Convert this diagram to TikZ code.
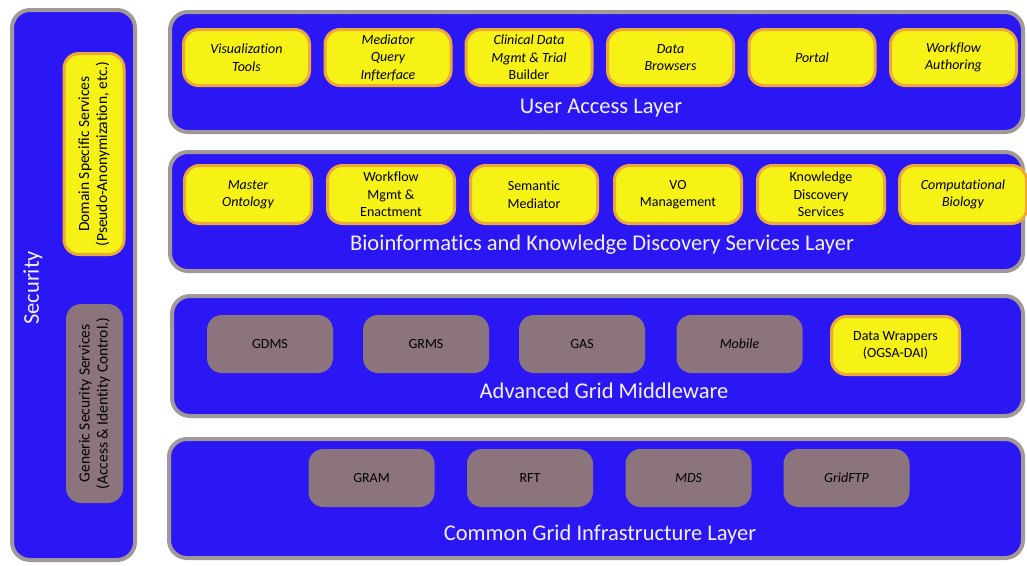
\documentclass[tikz,border=0pt]{standalone}
\usepackage{fontspec}
\setmainfont[Ligatures={NoCommon}]{Carlito}
\definecolor{layerblue}{HTML}{2B16F4}
\definecolor{panelgray}{HTML}{A39898}
\definecolor{boxyellow}{HTML}{F6F216}
\definecolor{boxorange}{HTML}{EEA83A}
\definecolor{boxmauve}{HTML}{8C747C}
\definecolor{titlewhite}{HTML}{F2F0FF}
\tikzset{
  panel/.style={draw=panelgray, line width=4pt, fill=layerblue, rounded corners=18pt, inner sep=0pt},
  ybox/.style={draw=boxorange, line width=3pt, fill=boxyellow, rounded corners=15pt, inner sep=0pt,
     align=center, font=\fontsize{14}{17.5}\selectfont, text=black},
  gbox/.style={fill=boxmauve, rounded corners=15pt, inner sep=0pt,
     align=center, font=\fontsize{14}{17.5}\selectfont, text=black},
  sidetext/.style={font=\fontsize{15.5}{18}\selectfont},
  rowone/.style={minimum width=126pt, minimum height=56pt},
  rowtwo/.style={minimum width=127pt, minimum height=58pt},
  rowgray/.style={minimum width=126pt, minimum height=58pt},
  layertitle/.style={text=titlewhite, font=\fontsize{22.5}{26}\selectfont, inner sep=0pt},
}
\begin{document}
\begin{tikzpicture}[x=1pt,y=-1pt]
\useasboundingbox (0,0) rectangle (1027,565);
% panels
\node[panel, minimum width=123pt, minimum height=550pt] (sec) at (73.5,285) {};
\node[panel, minimum width=853pt, minimum height=120pt] (l1) at (596.5,72) {};
\node[panel, minimum width=853pt, minimum height=119pt] (l2) at (596.5,211.5) {};
\node[panel, minimum width=851pt, minimum height=120pt] (l3) at (597.5,356) {};
\node[panel, minimum width=854pt, minimum height=119pt] (l4) at (596,498.5) {};
% security column
\node[layertitle, rotate=90] (sectitle) at (33,288) {Security};
\node[ybox, sidetext, rotate=90, minimum width=201pt, minimum height=60pt] (dss) at (94,154)
  {Domain Specific Services\\(Pseudo-Anonymization, etc.)};
\node[gbox, sidetext, rotate=90, minimum width=199pt, minimum height=57pt] (gss) at (94.5,403.5)
  {Generic Security Services\\(Access \& Identity Control.)};
% user access layer
\node[ybox, rowone] (vis) at (246.5,57.5) {\itshape Visualization\\\itshape Tools};
\node[ybox, rowone] (mqi) at (388,57.5) {\itshape Mediator\\\itshape Query\\\itshape Infterface};
\node[ybox, rowone] (cdm) at (529,57.5) {\itshape Clinical Data\\\itshape Mgmt \& Trial\\Builder};
\node[ybox, rowone] (dbr) at (670.5,57.5) {\itshape Data\\\itshape Browsers};
\node[ybox, rowone] (por) at (812,57.5) {\itshape Portal};
\node[ybox, rowone] (wfa) at (953.5,57.5) {\itshape Workflow\\\itshape Authoring};
\node[layertitle] (t1) at (601,108) {User Access Layer};
% bioinformatics layer
\node[ybox, rowtwo] (mo) at (248,194.5) {\itshape Master\\\itshape Ontology};
\node[ybox, rowtwo] (wfm) at (391,194.5) {Workflow\\Mgmt \&\\Enactment};
\node[ybox, rowtwo] (sm) at (534,194.5) {Semantic\\Mediator};
\node[ybox, rowtwo] (vo) at (678,194.5) {VO\\Management};
\node[ybox, rowtwo] (kds) at (821,194.5) {Knowledge\\Discovery\\Services};
\node[ybox, rowtwo] (cb) at (963,194.5) {\itshape Computational\\\itshape Biology};
\node[layertitle] (t2) at (602,245) {Bioinformatics and Knowledge Discovery Services Layer};
% advanced grid middleware
\node[gbox, rowgray] (gdms) at (270,344) {GDMS};
\node[gbox, rowgray] (grms) at (426,344) {GRMS};
\node[gbox, rowgray] (gas) at (582,344) {GAS};
\node[gbox, rowgray] (mob) at (739.5,344) {\itshape Mobile};
\node[ybox, minimum width=128pt, minimum height=58pt] (dw) at (895.5,345.5) {Data Wrappers\\(OGSA-DAI)};
\node[layertitle] (t3) at (604,391) {Advanced Grid Middleware};
% common grid infrastructure
\node[gbox, rowgray] (gram) at (371.5,478) {GRAM};
\node[gbox, rowgray] (rft) at (530,478) {RFT};
\node[gbox, rowgray] (mds) at (688.5,478) {\itshape MDS};
\node[gbox, rowgray] (gftp) at (846.5,478) {\itshape GridFTP};
\node[layertitle] (t4) at (600,534) {Common Grid Infrastructure Layer};
\end{tikzpicture}
\end{document}
